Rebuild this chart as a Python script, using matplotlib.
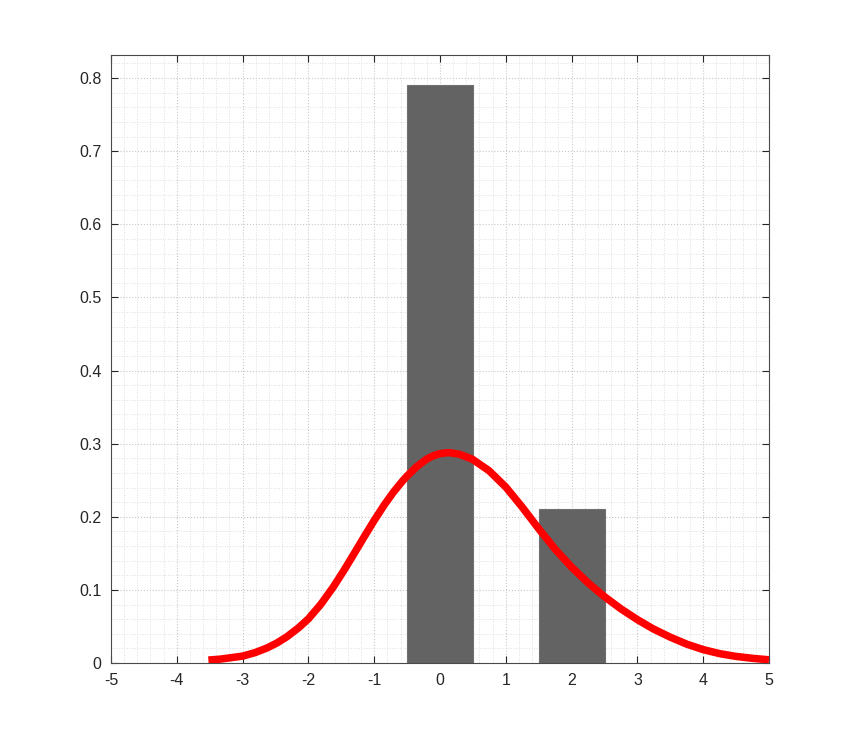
import matplotlib
matplotlib.use("Agg")
import matplotlib.pyplot as plt
from matplotlib.ticker import MultipleLocator

# histogram bars (bin centres, heights)
bar_centers = [0, 2]
bar_heights = [0.79, 0.21]
bar_width = 1.0

# fitted density curve
curve_x = [-3.52, -3.34, -3.0, -2.81, -2.63, -2.48, -2.33, -2.15, -2.0, -1.81,
           -1.62, -1.47, -1.32, -1.155, -1.0, -0.846, -0.71, -0.56, -0.5, -0.354,
           -0.2, -0.1, 0.0, 0.1, 0.152, 0.3, 0.49, 0.745, 1.0, 1.25,
           1.5, 1.75, 2.0, 2.245, 2.49, 2.75, 3.0, 3.24, 3.5, 3.75,
           4.0, 4.25, 4.5, 4.76, 5.0]
curve_y = [0.0040, 0.0053, 0.0094, 0.0142, 0.0205, 0.0273, 0.0357, 0.0481, 0.0604, 0.0804,
           0.1042, 0.1252, 0.1474, 0.1722, 0.1950, 0.2163, 0.2334, 0.2499, 0.2558, 0.2685,
           0.2790, 0.2835, 0.2863, 0.2875, 0.2876, 0.2854, 0.2788, 0.2630, 0.2406, 0.2131,
           0.1836, 0.1556, 0.1311, 0.1100, 0.0914, 0.0740, 0.0593, 0.0467, 0.0353, 0.0258,
           0.0183, 0.0128, 0.0090, 0.0063, 0.0044]

x_ticks = list(range(-5, 6))
y_ticks = [0, 0.1, 0.2, 0.3, 0.4, 0.5, 0.6, 0.7, 0.8]

plt.rcParams['font.family'] = ['Liberation Sans', 'DejaVu Sans']

fig = plt.figure(figsize=(8.5, 7.45), dpi=100)
ax = fig.add_axes([111 / 850, 82 / 745, 658 / 850, 608 / 745])

ax.bar(bar_centers, bar_heights, width=bar_width, color='#636363',
       edgecolor='#707070', linewidth=0.8, zorder=2)
ax.plot(curve_x, curve_y, color='#ff0000', linewidth=5.4,
        solid_capstyle='butt', solid_joinstyle='round', zorder=3)

ax.set_xlim(-5, 5)
ax.set_ylim(0, 0.8315)
ax.set_xticks(x_ticks)
ax.set_xticklabels([str(v) for v in x_ticks])
ax.set_yticks(y_ticks)
ax.set_yticklabels(['0'] + [f'{v:.1f}' for v in y_ticks[1:]])
ax.xaxis.set_minor_locator(MultipleLocator(0.2))
ax.yaxis.set_minor_locator(MultipleLocator(0.02))

# grid: major + minor, dotted light grey
ax.grid(True, which='major', linestyle=':', color='#c8c8c8', linewidth=0.8, zorder=0)
ax.grid(True, which='minor', linestyle=':', color='#dedede', linewidth=0.7, zorder=0)
ax.set_axisbelow(True)

ax.tick_params(which='major', direction='in', length=5, width=0.8,
               top=True, right=True, color='#262626', labelcolor='#262626',
               labelsize=11.5, pad=7)
ax.tick_params(which='minor', length=0)
for s in ax.spines.values():
    s.set_color('#4a4a4a')
    s.set_linewidth(0.8)

fig.savefig('out.png', dpi=100, facecolor='white')
